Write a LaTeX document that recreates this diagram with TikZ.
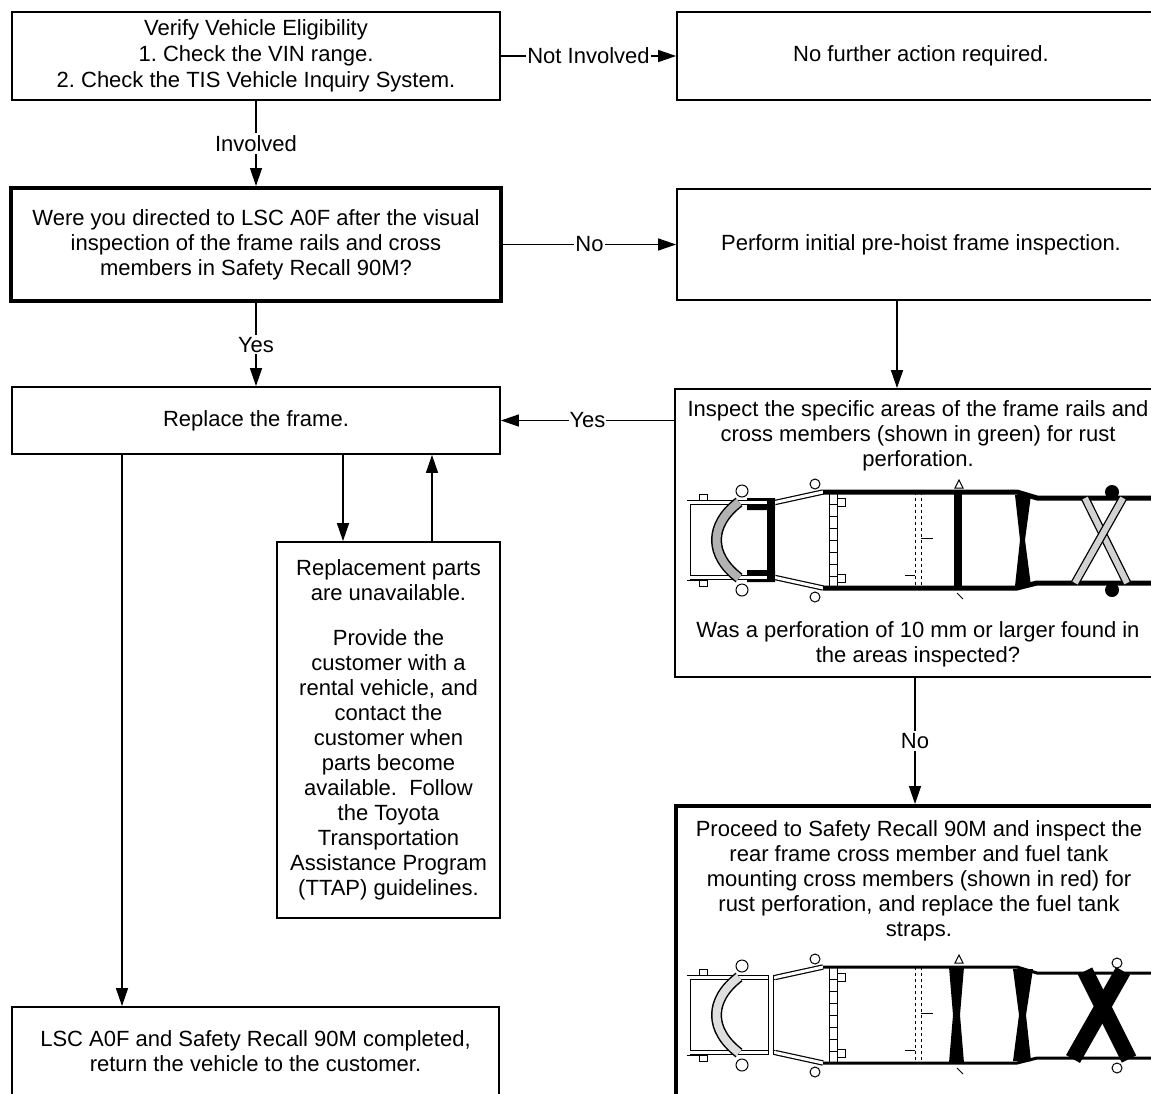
\documentclass[tikz,border=0pt]{standalone}
\usepackage{fontspec}
\setmainfont{Liberation Sans}
\usetikzlibrary{arrows.meta}
\frenchspacing
\tikzset{
  txt/.style={font=\fontsize{22}{25}\selectfont, align=center, inner sep=0pt},
  box/.style={draw, line width=1.8pt, rectangle, inner sep=0pt, txt},
  thickbox/.style={box, line width=4pt},
  conn/.style={line width=1.3pt, -{Triangle[length=18pt,width=12pt]}},
  lbl/.style={txt, fill=white, inner xsep=1pt, inner ysep=2pt},
  rail/.style={double, double distance=3pt, line width=1.2pt},
  member/.style={line width=1pt},
}
\newcommand\chassisbase[2]{%
  % front end
  \draw[member] (3,22) -- (3,98);
  \draw[member] (0,20) -- (20,20) (0,100) -- (20,100);
  \draw[member] (12,14) rectangle (20,20) (12,100) rectangle (20,106);
  \draw[rail] (3,22.5) -- (88,22.5);
  \draw[rail] (3,97.5) -- (88,97.5);
  % kick-up of rails
  \draw[rail] (88,22.5) -- (136,12);
  \draw[rail] (88,97.5) -- (136,108);
  % main rails
  \draw[line width=#1] (136,12) -- (330,12) -- (350,18) -- (464,18);
  \draw[line width=#1] (136,108) -- (330,108) -- (350,103) -- (464,103);
  % front crescent member
  \draw[double=#2, double distance=8pt, line width=1.5pt] (52,22) .. controls (22,45) and (22,75) .. (52,98);
  % mounts
  \draw[member, fill=white] (55,11) circle (6) (55,110) circle (6);
  \draw[member, fill=white] (128,4) circle (5) (128,117) circle (5);
  % ladder member
  \draw[member] (142,12) rectangle (150,108);
  \foreach \yy in {24,36,...,100} {\draw[member] (142,\yy) -- (150,\yy);}
  \draw[member] (150,18) rectangle (158,26) (150,94) rectangle (158,102);
  % dashed member
  \draw[member, dashed] (228,12) -- (228,108) (234,12) -- (234,108);
  \draw[member] (234,58) -- (246,58);
  \draw[member] (218,95) -- (228,95);
  % small marks
  \draw[member] (272,0) -- (268,8) -- (276,8) -- cycle;
  \draw[member] (270,113) -- (276,119);
}
\begin{document}
\begin{tikzpicture}[x=1pt,y=-1pt]
\useasboundingbox (0,0) rectangle (1151,1093);
\clip (0,0) rectangle (1151,1093);
\fill[white] (0,0) rectangle (1151,1093);

% boxes
\node[box, minimum width=488pt, minimum height=88pt] (verify) at (256,56)
  {Verify Vehicle Eligibility\\[1pt]1. Check the VIN range.\\[1pt]2. Check the TIS Vehicle Inquiry System.};
\node[thickbox, minimum width=490pt, minimum height=113pt] (directed) at (256,244.5)
  {Were you directed to LSC A0F after the visual\\inspection of the frame rails and cross\\members in Safety Recall 90M?};
\node[box, minimum width=488pt, minimum height=88pt] (nofurther) at (921,56)
  {No further action required.};
\node[box, minimum width=488pt, minimum height=111pt] (perform) at (921,244.5)
  {Perform initial pre-hoist frame inspection.};
\node[box, minimum width=488pt, minimum height=67pt] (replace) at (256,420.5)
  {Replace the frame.};
\node[box, minimum width=490pt, minimum height=288pt] (inspect) at (920,533) {};
\node[box, minimum width=223pt, minimum height=376pt] (replacement) at (388.5,730)
  {Replacement parts\\are unavailable.\\[20pt]Provide the\\customer with a\\rental vehicle, and\\contact the\\customer when\\parts become\\available.\ \ Follow\\the Toyota\\Transportation\\Assistance Program\\(TTAP) guidelines.};
\node[box, minimum width=487pt, minimum height=113pt] (final) at (255.5,1063.5) {};
\node[thickbox, minimum width=490pt, minimum height=314pt] (proceed) at (921,963) {};

% texts inside open boxes
\node[txt] (inspecttxt) at (918,436)
  {Inspect the specific areas of the frame rails and\\cross members (shown in green) for rust\\perforation.};
\node[txt] (inspectq) at (918,644)
  {Was a perforation of 10 mm or larger found in\\the areas inspected?};
\node[txt] (proceedtxt) at (919,881)
  {Proceed to Safety Recall 90M and inspect the\\rear frame cross member and fuel tank\\mounting cross members (shown in red) for\\rust perforation, and replace the fuel tank\\straps.};
\node[txt] (finaltxt) at (255.5,1051)
  {LSC A0F and Safety Recall 90M completed,\\return the vehicle to the customer.};

% connector coordinates
\coordinate (xa) at (897,0);
\coordinate (xb) at (915,0);
\coordinate (xc) at (343,0);
\coordinate (xd) at (432,0);
\coordinate (xe) at (122,0);

% connectors
\draw[conn] (verify.east) -- node[lbl] {Not Involved} (verify.east -| nofurther.west);
\draw[conn] (verify) -- node[lbl] {Involved} (directed);
\draw[conn] (directed.east) -- node[lbl] {No} (directed.east -| perform.west);
\draw[conn] (directed) -- node[lbl] {Yes} (replace);
\draw[conn] (xa |- perform.south) -- (xa |- inspect.north);
\draw[conn] (inspect.west |- replace.east) -- node[lbl] {Yes} (replace.east);
\draw[conn] (xb |- inspect.south) -- node[lbl] {No} (xb |- proceed.north);
\draw[conn] (xc |- replace.south) -- (xc |- replacement.north);
\draw[conn] (xd |- replacement.north) -- (xd |- replace.south);
\draw[conn] (xe |- replace.south) -- (xe |- final.north);

% chassis 1 (inspection areas)
\begin{scope}[shift={(687,480)}]
  \fill (60,18) rectangle (88,30) (60,90) rectangle (88,102);
  \chassisbase{5pt}{gray!60}
  \fill (80,20) rectangle (88,100);
  \fill (267,12) rectangle (275,108);
  \fill (328,15) -- (344,15) -- (338,60) -- (344,106) -- (328,106) -- (333,60) -- cycle;
  \draw[double=gray!35, double distance=6pt, line width=1.3pt] (398,18) -- (440,103);
  \draw[double=gray!35, double distance=6pt, line width=1.3pt] (436,18) -- (388,103);
  \fill (425,12) circle (7) (425,110) circle (7);
\end{scope}

% chassis 2 (recall 90M areas)
\begin{scope}[shift={(687,955)}]
  \chassisbase{3pt}{gray!25}
  \draw[double, double distance=4pt, line width=1pt] (84,20) -- (84,100);
  \fill (262,12) -- (277,12) -- (273,60) -- (277,108) -- (262,108) -- (266,60) -- cycle;
  \fill (326,14) -- (346,14) -- (339,60) -- (344,106) -- (326,106) -- (332,60) -- cycle;
  \draw[line width=16pt] (398,16) -- (442,104);
  \draw[line width=16pt] (436,16) -- (386,104);
  \draw[member, fill=white] (430,8) circle (5) (430,113) circle (5);
\end{scope}
\end{tikzpicture}
\end{document}
